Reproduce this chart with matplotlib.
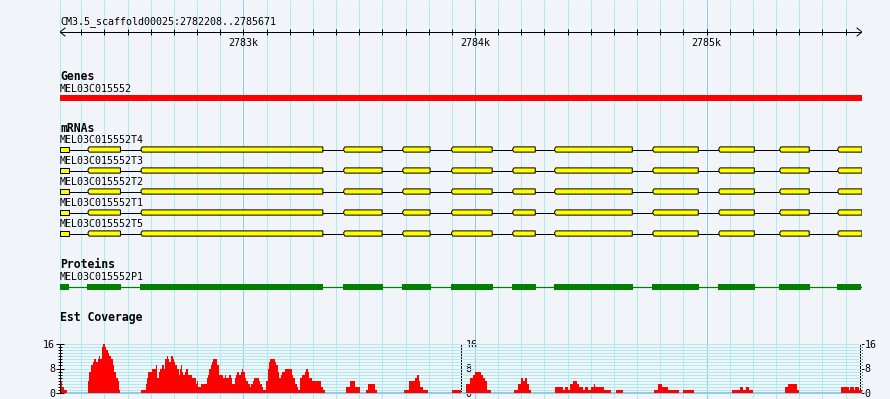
import matplotlib
matplotlib.use("Agg")
import matplotlib.pyplot as plt
from matplotlib.patches import Polygon, Rectangle
import numpy as np

# ---------------- data ----------------
ref_name = "CM3.5_scaffold00025"
region_start = 2782208
region_end = 2785671
major_ticks = [2783000, 2784000, 2785000]
major_labels = ["2783k", "2784k", "2785k"]

gene_name = "MEL03C015552"
mrna_names = ["MEL03C015552T4", "MEL03C015552T3", "MEL03C015552T2",
              "MEL03C015552T1", "MEL03C015552T5"]
protein_name = "MEL03C015552P1"

exon_starts = [2782208, 2782329, 2782558, 2783433, 2783688, 2783899,
               2784163, 2784344, 2784768, 2785053, 2785316, 2785567]
exon_ends = [2782247, 2782469, 2783343, 2783599, 2783806, 2784074,
             2784260, 2784679, 2784964, 2785206, 2785443, 2785671]
cds_starts = [2782208, 2782323, 2782552, 2783429, 2783684, 2783895,
              2784159, 2784340, 2784764, 2785049, 2785312, 2785563]
cds_ends = [2782247, 2782471, 2783343, 2783601, 2783808, 2784076,
            2784262, 2784681, 2784966, 2785208, 2785445, 2785667]

# EST coverage as runs: offset from region start (bp) and depth
cov_offset = [0, 10, 17, 30, 120, 127, 134, 141, 148, 156, 163, 168, 173, 180,
              186, 193, 199, 206, 213, 220, 228, 235, 242, 249, 256, 260,
              350, 372, 377, 381, 399, 415, 419, 428, 433, 441, 449, 454, 462,
              467, 472, 480, 488, 492, 498, 505, 514, 518, 523, 527, 533, 540,
              546, 552, 570, 586, 592, 596, 609, 634, 639, 645, 651, 657, 662,
              680, 686, 705, 711, 717, 731, 737, 744, 756, 760, 766, 773, 781,
              786, 792, 799, 805, 812, 821, 826, 833, 838, 858, 865, 871, 877,
              890, 897, 902, 907, 927, 934, 940, 947, 953, 959, 972, 980, 982,
              1001, 1008, 1015, 1023, 1029, 1037, 1044, 1058, 1064, 1071, 1077,
              1087, 1126, 1137, 1144, 1236, 1253, 1274, 1296, 1322, 1328, 1361,
              1369, 1486, 1509, 1534, 1541, 1548, 1555, 1569, 1591, 1693, 1732,
              1754, 1771, 1783, 1791, 1817, 1826, 1835, 1843, 1861, 1961, 1979,
              1990, 1999, 2007, 2017, 2027, 2035, 2138, 2173, 2182, 2195, 2203,
              2216, 2232, 2239, 2258, 2268, 2282, 2293, 2304, 2311, 2350, 2380,
              2402, 2432, 2566, 2580, 2601, 2627, 2674, 2691, 2739, 2903, 2938,
              2949, 2964, 2975, 2994, 3132, 3145, 3184, 3192, 3374, 3408, 3413,
              3430, 3434, 3452]
cov_depth = [4, 2, 1, 0, 4, 7, 9, 10, 11, 10, 11, 12, 11, 15,
             16, 15, 14, 13, 12, 11, 9, 7, 5, 4, 1, 0,
             1, 3, 5, 7, 8, 9, 5, 7, 8, 9, 8, 11, 12,
             11, 10, 12, 11, 10, 9, 8, 6, 8, 9, 7, 6, 7,
             8, 6, 5, 3, 4, 2, 3, 5, 6, 8, 9, 10, 11,
             9, 6, 5, 6, 5, 6, 5, 3, 5, 6, 7, 6, 7,
             8, 7, 5, 4, 3, 2, 3, 4, 5, 4, 3, 2, 1,
             4, 8, 10, 11, 10, 9, 7, 5, 6, 7, 8, 11, 8,
             6, 5, 3, 2, 1, 5, 6, 7, 8, 7, 5,
             4, 2, 1, 0, 2, 4, 2, 0, 1, 3, 1,
             0, 1, 4, 5, 6, 4, 2, 1, 0, 1, 0,
             3, 5, 6, 7, 6, 5, 4, 1, 0, 1, 3,
             5, 4, 5, 3, 1, 0, 2, 1, 2, 1, 3,
             4, 3, 2, 1, 2, 1, 2, 3, 2, 1, 0,
             1, 0, 1, 3, 2, 1, 0, 1, 0, 1, 2,
             1, 2, 1, 0, 2, 3, 1, 0, 2, 1, 2,
             1, 2, 1]
cov_max = 16

# ---------------- style / layout ----------------
W, H = 890, 399
BG = "#F1F5FA"
GRID_MINOR = "#AEEAEE"
GRID_MAJOR = "#8ECDE4"
PX = 0.72  # one pixel in points
plt.rcParams["font.family"] = ["DejaVu Sans Mono", "DejaVu Sans"]
FS = 7.2
FSB = 8.3

fig = plt.figure(figsize=(W / 100, H / 100), dpi=100, facecolor=BG)
ax = fig.add_axes([60 / W, 0, 802 / W, 1])
ax.set_xlim(region_start, region_end)
ax.set_ylim(H, 0)
ax.axis("off")
bp_per_px = (region_end - region_start) / 802.0

# vertical grid lines
grid_pos = np.arange(int(np.ceil(region_start / 100.0)) * 100, region_end, 100)
minor_pos = [p for p in grid_pos if p % 1000 != 0]
major_pos = [p for p in grid_pos if p % 1000 == 0]
ax.vlines([region_start] + minor_pos, 0, H, color=GRID_MINOR, lw=PX, zorder=0)
ax.vlines(major_pos, 0, H, color=GRID_MAJOR, lw=PX, zorder=0)

# ruler
ax.text(region_start, 21.5, f"{ref_name}:{region_start}..{region_end}",
        fontsize=FS, va="center", ha="left")
ax.plot([region_start, region_end], [32, 32], color="black", lw=PX, zorder=3)
ax.vlines(grid_pos, 29, 35, color="black", lw=PX, zorder=3)
ah = 5 * bp_per_px
ax.plot([region_start + ah, region_start, region_start + ah], [28, 32, 36],
        color="black", lw=PX, zorder=3)
ax.plot([region_end - ah, region_end, region_end - ah], [28, 32, 36],
        color="black", lw=PX, zorder=3)
for t, lab in zip(major_ticks, major_labels):
    ax.text(t, 42.5, lab, fontsize=FS, ha="center", va="center")

# Genes track
ax.text(region_start, 76, "Genes", fontsize=FSB, fontweight="bold", va="center")
ax.text(region_start, 88.5, gene_name, fontsize=FS, va="center")
ax.add_patch(Rectangle((region_start, 95), region_end - region_start, 5.5,
                       facecolor="#FF0000", edgecolor="none", zorder=3))

# mRNA track
ax.text(region_start, 128.5, "mRNAs", fontsize=FSB, fontweight="bold", va="center")
label_y = [140, 161, 182, 203, 224]
row_y = [149.5, 170.5, 191.5, 212.5, 233.5]
notch = 1.2 * bp_per_px
eh = 2.6
for name, ly, yc in zip(mrna_names, label_y, row_y):
    ax.text(region_start, ly, name, fontsize=FS, va="center")
    ax.plot([exon_starts[0], exon_ends[-1]], [yc, yc], color="black", lw=PX, zorder=2)
    for i, (s, e) in enumerate(zip(exon_starts, exon_ends)):
        if i == 0:
            pts = [(s, yc - eh), (e, yc - eh), (e, yc + eh), (s, yc + eh)]
        else:
            pts = [(s, yc - 0.8), (s + notch, yc - eh), (e, yc - eh), (e, yc + eh),
                   (s + notch, yc + eh), (s, yc + 0.8)]
        ax.add_patch(Polygon(pts, closed=True, facecolor="#FFFF00",
                             edgecolor="black", lw=PX, zorder=3))

# Proteins track
ax.text(region_start, 265, "Proteins", fontsize=FSB, fontweight="bold", va="center")
ax.text(region_start, 277.5, protein_name, fontsize=FS, va="center")
ax.plot([cds_starts[0], cds_ends[-1]], [287, 287], color="#008000", lw=PX * 1.2, zorder=2)
for s, e in zip(cds_starts, cds_ends):
    ax.add_patch(Rectangle((s, 284), e - s, 6.3, facecolor="#008000",
                           edgecolor="none", zorder=3))

# Est Coverage track
ax.text(region_start, 317.5, "Est Coverage", fontsize=FSB, fontweight="bold", va="center")

ax2 = fig.add_axes([60 / W, (H - 393) / H, 802 / W, 49 / H])
ax2.set_xlim(region_start, region_end)
ax2.set_ylim(0, cov_max)
ax2.patch.set_alpha(0)
ax2.hlines(range(1, cov_max + 1), region_start, region_end, color=GRID_MINOR,
           lw=PX, zorder=1)
ax2.hlines([0], region_start, region_end, color=GRID_MAJOR, lw=PX * 2, zorder=1,
           clip_on=False)
edges = [region_start + o for o in cov_offset] + [region_end]
ax2.stairs(cov_depth, edges, fill=True, color="#FF0000", baseline=0, zorder=2)

for sp in ["top", "right", "bottom"]:
    ax2.spines[sp].set_visible(False)
ax2.spines["left"].set_linewidth(PX)
ax2.set_xticks([])
ax2.set_yticks([0, 8, 16])
ax2.set_yticks(range(cov_max + 1), minor=True)
ax2.tick_params(axis="y", which="major", direction="inout", length=6, width=PX,
                labelsize=FS, pad=0.5)
ax2.tick_params(axis="y", which="minor", direction="inout", length=3.5, width=PX)

for loc in [0.5, 800 / 802]:
    sec = ax2.secondary_yaxis(loc)
    sec.set_yticks([0, 8, 16])
    sec.set_yticks(range(cov_max + 1), minor=True)
    sec.tick_params(axis="y", which="major", direction="inout", length=6, width=PX,
                    labelsize=FS, pad=0.5)
    sec.tick_params(axis="y", which="minor", direction="inout", length=3.5, width=PX)
    for sp in sec.spines.values():
        sp.set_linewidth(PX)

fig.savefig("out.png", dpi=100, facecolor=BG)
